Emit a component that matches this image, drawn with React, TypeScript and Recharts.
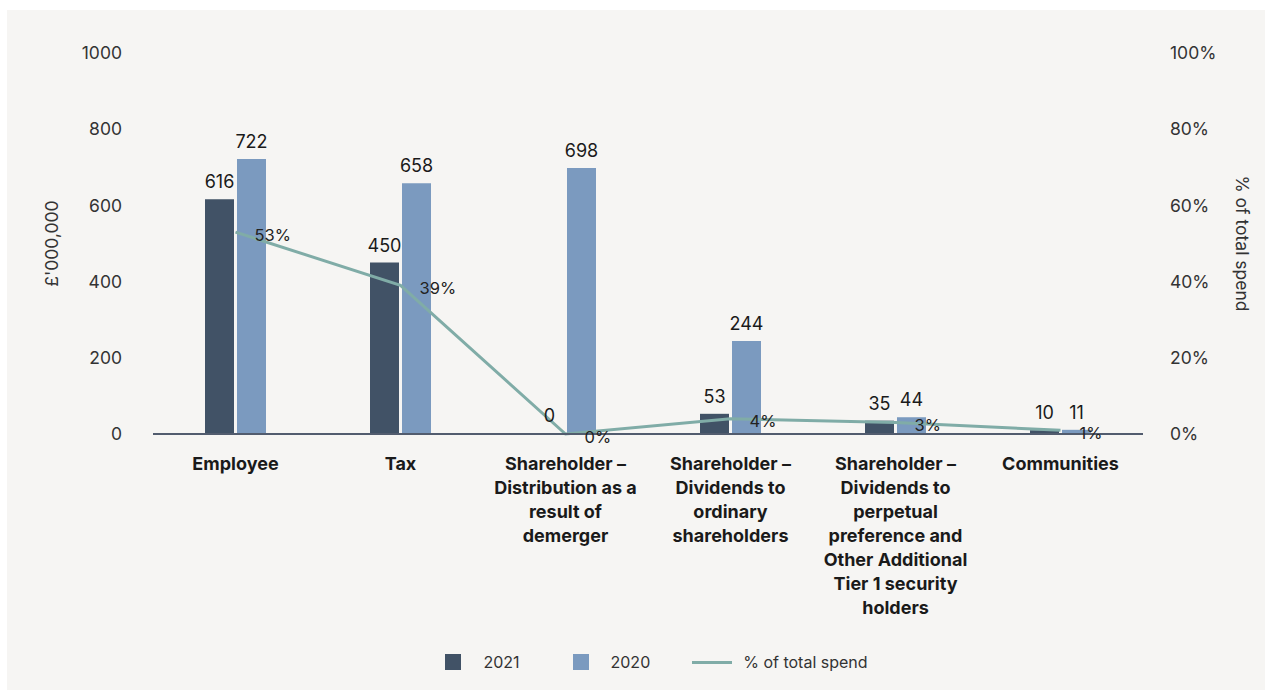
import React from 'react';
import { ComposedChart, Bar, Line, XAxis, YAxis, Legend, LabelList, Text } from 'recharts';

const categories = [
  'Employee',
  'Tax',
  'Shareholder – Distribution as a result of demerger',
  'Shareholder – Dividends to ordinary shareholders',
  'Shareholder – Dividends to perpetual preference and Other Additional Tier 1 security holders',
  'Communities',
];
const spend2021 = [616, 450, 0, 53, 35, 10];
const spend2020 = [722, 658, 698, 244, 44, 11];
const pctOfTotal = [53, 39, 0, 4, 3, 1];
const leftTicks = [0, 200, 400, 600, 800, 1000];
const rightTicks = [0, 20, 40, 60, 80, 100];

const data = categories.map((name, i) => ({
  name,
  y2021: spend2021[i],
  y2020: spend2020[i],
  pct: pctOfTotal[i],
}));

const FONT = 'Inter, "Noto Sans", sans-serif';
const DARK = '#415266';
const LIGHT = '#7b9abf';
const TEAL = '#80aca7';

const CategoryTick = (props: any) => {
  const { x, y, payload } = props;
  return (
    <Text
      x={x}
      y={y + 15}
      width={140}
      textAnchor="middle"
      verticalAnchor="start"
      lineHeight="24px"
      style={{ fontFamily: FONT, fontSize: 18, fontWeight: 700 }}
      fill="#1a1a1a"
    >
      {payload.value}
    </Text>
  );
};

const BarValue = (props: any) => {
  const { x, y, width, value } = props;
  return (
    <text x={x + width / 2} y={y - 11} textAnchor="middle" fill="#1a1a1a" fontSize={18} fontFamily={FONT}>
      {value}
    </text>
  );
};

const PctLabel = (props: any) => {
  const { x, y, value } = props;
  return (
    <text x={x + 19} y={y + 4} dominantBaseline="middle" textAnchor="start" fill="#222" fontSize={16.5} fontFamily={FONT}>
      {value}%
    </text>
  );
};

const LegendContent = () => (
  <div
    style={{
      display: 'flex',
      justifyContent: 'center',
      alignItems: 'center',
      height: 36,
      paddingLeft: 41,
      fontFamily: FONT,
      fontSize: 16,
      color: '#333',
    }}
  >
    <span style={{ width: 16, height: 16, background: DARK, display: 'inline-block' }} />
    <span style={{ marginLeft: 22, marginRight: 53 }}>2021</span>
    <span style={{ width: 16, height: 16, background: LIGHT, display: 'inline-block' }} />
    <span style={{ marginLeft: 22, marginRight: 42 }}>2020</span>
    <span style={{ width: 40, height: 3, background: TEAL, display: 'inline-block' }} />
    <span style={{ marginLeft: 11 }}>% of total spend</span>
  </div>
);

export default function App() {
  return (
    <div style={{ position: 'absolute', left: 7, top: 10, width: 1258, height: 680, background: '#f6f5f3' }}>
      <ComposedChart
        width={1258}
        height={680}
        data={data}
        margin={{ top: 43, right: 0, left: 0, bottom: 10 }}
        barSize={29}
        barGap={3}
      >
        <XAxis
          dataKey="name"
          interval={0}
          tickLine={false}
          axisLine={{ stroke: '#525c6e', strokeWidth: 2 }}
          tick={<CategoryTick />}
          height={210}
        />
        <YAxis
          yAxisId="left"
          domain={[0, 1000]}
          ticks={leftTicks}
          width={146}
          axisLine={false}
          tickLine={false}
          tickSize={0}
          tickMargin={31}
          tick={{ fill: '#333', fontSize: 17.5, fontFamily: FONT }}
          label={{ value: "£'000,000", angle: -90, position: 'center', dx: -28, fill: '#333', fontSize: 17.5, fontFamily: FONT }}
        />
        <YAxis
          yAxisId="right"
          orientation="right"
          domain={[0, 100]}
          ticks={rightTicks}
          width={122}
          axisLine={false}
          tickLine={false}
          tickSize={0}
          tickMargin={27}
          tickFormatter={(v) => `${v}%`}
          tick={{ fill: '#333', fontSize: 17.5, fontFamily: FONT, textAnchor: 'start' }}
          label={{ value: '% of total spend', angle: 90, position: 'center', dx: 38, fill: '#333', fontSize: 17.5, fontFamily: FONT }}
        />
        <Legend verticalAlign="bottom" wrapperStyle={{ height: 36 }} content={<LegendContent />} />
        <Bar yAxisId="left" dataKey="y2021" name="2021" fill={DARK} minPointSize={1} isAnimationActive={false}>
          <LabelList dataKey="y2021" content={<BarValue />} />
        </Bar>
        <Bar yAxisId="left" dataKey="y2020" name="2020" fill={LIGHT} isAnimationActive={false}>
          <LabelList dataKey="y2020" content={<BarValue />} />
        </Bar>
        <Line
          yAxisId="right"
          type="linear"
          dataKey="pct"
          name="% of total spend"
          stroke={TEAL}
          strokeWidth={3}
          dot={false}
          isAnimationActive={false}
        >
          <LabelList dataKey="pct" content={<PctLabel />} />
        </Line>
      </ComposedChart>
    </div>
  );
}
